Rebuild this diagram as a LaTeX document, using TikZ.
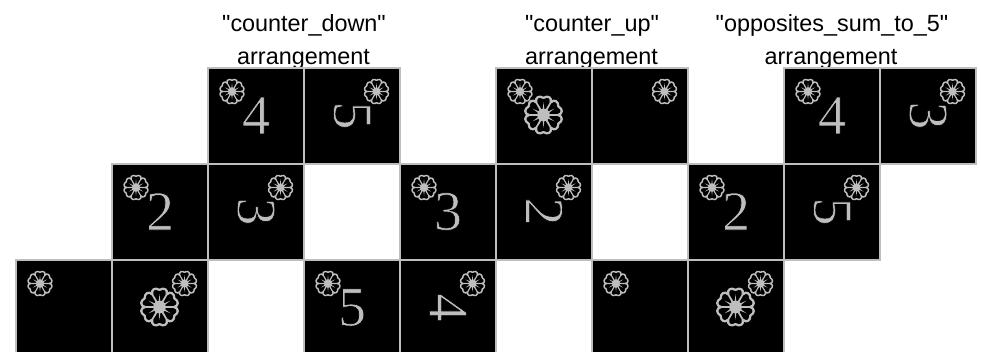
\documentclass[tikz,border=0pt]{standalone}
\usepackage{fontspec}
\newfontfamily\titlefont{Liberation Sans}
\newfontfamily\digitfont{Liberation Serif}
\definecolor{facegray}{HTML}{BEBEBE}
\newcommand{\thindigit}[1]{\special{pdf:code 2 Tr 0 G 0.6 w}#1\special{pdf:code 0 Tr}}
\tikzset{x=1pt,y=-1pt,
  facecell/.style={draw=facegray,line width=2.4pt,fill=black,minimum width=96pt,minimum height=96pt,inner sep=0pt,outer sep=0pt},
  digitlabel/.style={text=facegray,font=\digitfont\fontsize{56}{56}\selectfont,inner sep=0pt},
  titlelabel/.style={font=\titlefont\fontsize{23.4}{24}\selectfont,inner sep=0pt,anchor=base},
  flowerline/.style={draw=facegray,line cap=round,line join=round}
}
% flower: centre, radius, name
\newcommand{\flowerat}[3]{%
  \begin{scope}[shift={(#1)},x=#2pt,y=#2pt]
    \node[circle,inner sep=0pt,minimum size=1pt] (#3) at (0,0) {};
    \fill[facegray] (0,0) circle (0.36);
    \draw[flowerline,line width=#2*0.13pt]
      (0:0.84) foreach \a in {0,60,...,300} {
        .. controls (\a+4:1.12) and (\a+18:1.16) .. (\a+30:0.98)
        .. controls (\a+42:1.16) and (\a+56:1.12) .. (\a+60:0.84)
      };
    \foreach \a in {0,60,...,300} {
      \fill[facegray] (\a-11:0.3) -- (\a-3:0.86) -- (\a+3:0.86) -- (\a+11:0.3) -- cycle;
      \fill[facegray] (\a+30-10:0.3) -- (\a+30:0.72) -- (\a+30+10:0.3) -- cycle;
    }
  \end{scope}}
% cell: x, y, name, digit, rotation, small flower x offset
\newcommand{\facecellat}[6]{%
  \node[facecell] (#3) at (#1+48,#2+48) {};
  \flowerat{#1+#6,#2+23.5}{11.5}{#3f}
  \if\relax\detokenize{#4}\relax\else
    \node[digitlabel,rotate=#5] (#3d) at (#1+48,#2+47.5) {\thindigit{#4}};
  \fi}
\newcommand{\bigflower}[3]{\flowerat{#1+47.5,#2+47}{17.5}{#3}}
\begin{document}
\begin{tikzpicture}
\clip (0,0) rectangle (981,351);
\fill[white] (0,0) rectangle (981,351);
% titles
\node[titlelabel] (t1a) at (304,31) {"counter\_down"};
\node[titlelabel] (t1b) at (303.5,64) {arrangement};
\node[titlelabel] (t2a) at (592,31) {"counter\_up"};
\node[titlelabel] (t2b) at (591.5,64) {arrangement};
\node[titlelabel] (t3a) at (832,31) {"opposites\_sum\_to\_5"};
\node[titlelabel] (t3b) at (831,64) {arrangement};
% net 1
\facecellat{208}{68}{a4}{4}{0}{24}
\facecellat{304}{68}{a5}{5}{-90}{72.5}
\facecellat{112}{164}{a2}{2}{0}{24}
\facecellat{208}{164}{a3}{3}{-90}{72.5}
\facecellat{16}{260}{a0}{}{0}{24}
\facecellat{112}{260}{a1}{}{0}{72.5}
\bigflower{112}{260}{a1b}
% net 2
\facecellat{496}{68}{b1}{}{0}{24}
\bigflower{496}{68}{b1b}
\facecellat{592}{68}{b0}{}{0}{72.5}
\facecellat{400}{164}{b3}{3}{0}{24}
\facecellat{496}{164}{b2}{2}{-90}{72.5}
\facecellat{304}{260}{b5}{5}{0}{24}
\facecellat{400}{260}{b4}{4}{-90}{72.5}
% net 3
\facecellat{784}{68}{c4}{4}{0}{24}
\facecellat{880}{68}{c3}{3}{-90}{72.5}
\facecellat{688}{164}{c2}{2}{0}{24}
\facecellat{784}{164}{c5}{5}{-90}{72.5}
\facecellat{592}{260}{c0}{}{0}{24}
\facecellat{688}{260}{c1}{}{0}{72.5}
\bigflower{688}{260}{c1b}
\end{tikzpicture}
\end{document}
